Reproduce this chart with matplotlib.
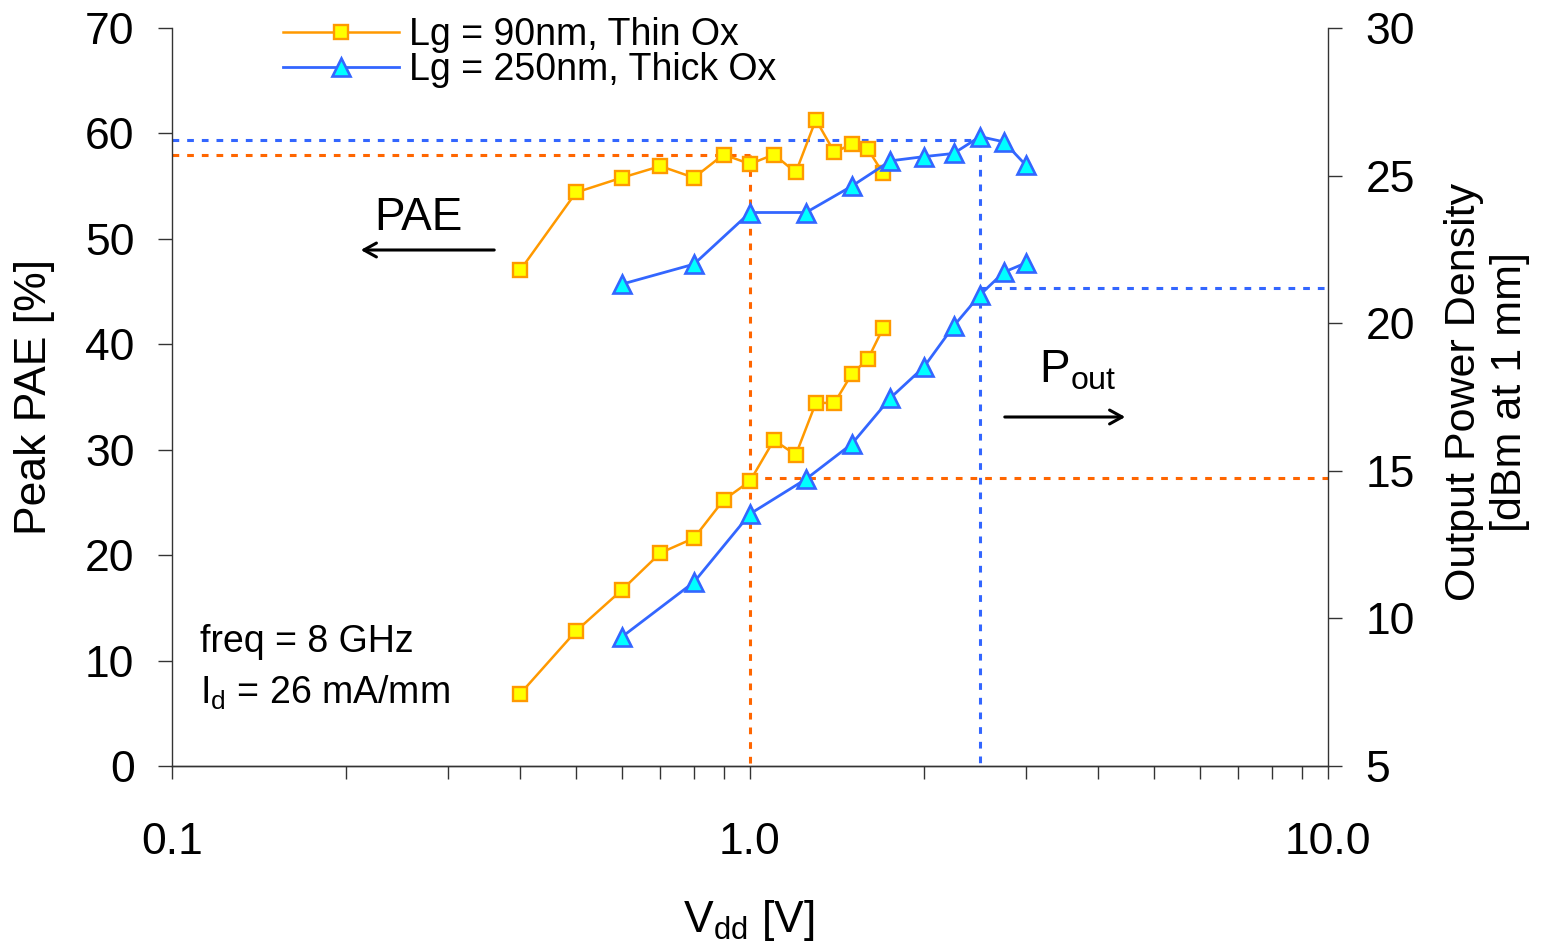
import matplotlib
matplotlib.use("Agg")
import matplotlib.pyplot as plt
from matplotlib.ticker import FixedLocator, NullFormatter

plt.rcParams['font.family'] = ['Liberation Sans', 'DejaVu Sans']
plt.rcParams['mathtext.fontset'] = 'custom'
plt.rcParams['mathtext.rm'] = 'Liberation Sans'
plt.rcParams['mathtext.it'] = 'Liberation Sans'

# ---- data ----
vdd_thin = [0.4, 0.5, 0.6, 0.7, 0.8, 0.9, 1.0, 1.1, 1.2, 1.3, 1.4, 1.5, 1.6, 1.7]
pae_thin = [47.0, 54.4, 55.8, 56.9, 55.8, 58.0, 57.1, 58.0, 56.3, 61.3, 58.2, 59.0, 58.5, 56.2]
pout_thin = [7.44, 9.57, 10.96, 12.22, 12.72, 14.01, 14.65, 16.04, 15.54, 17.30, 17.30, 18.28, 18.79, 19.84]

vdd_thick = [0.6, 0.8, 1.0, 1.25, 1.5, 1.75, 2.0, 2.25, 2.5, 2.75, 3.0]
pae_thick = [45.7, 47.6, 52.5, 52.5, 55.0, 57.4, 57.8, 58.1, 59.7, 59.2, 57.0]
pout_thick = [9.37, 11.23, 13.54, 14.72, 15.91, 17.47, 18.52, 19.90, 20.96, 21.73, 22.04]

# reference guides: (Vdd, PAE, Pout)
guide_thin = (1.0, 58.0, 14.75)
guide_thick = (2.5, 59.4, 21.2)

label_thin = "Lg = 90nm, Thin Ox"
label_thick = "Lg = 250nm, Thick Ox"

x_major = [0.1, 1.0, 10.0]
x_major_labels = ["0.1", "1.0", "10.0"]
x_minor = [0.2, 0.3, 0.4, 0.5, 0.6, 0.7, 0.8, 0.9, 2, 3, 4, 5, 6, 7, 8, 9]
pae_ticks = [0, 10, 20, 30, 40, 50, 60, 70]
pout_ticks = [5, 10, 15, 20, 25, 30]

# ---- styles ----
C_THIN_LINE = "#FF9900"
C_THIN_FACE = "#FFFF00"
C_THICK_LINE = "#3366FF"
C_THICK_FACE = "#00FFFF"
C_GUIDE_THIN = "#FF6600"
C_GUIDE_THICK = "#3366FF"
SPINE = "#333333"
FS_TICK = 32

W, H = 1547, 941
fig = plt.figure(figsize=(W / 100, H / 100), dpi=100)
L, R, T, B = 172, 1328, 28, 766
ax = fig.add_axes([L / W, 1 - B / H, (R - L) / W, (B - T) / H])
ax2 = ax.twinx()

ax.set_xscale("log")
ax.set_xlim(0.1, 10)
ax.set_ylim(0, 70)
ax2.set_ylim(5, 30)

thin_kw = dict(color=C_THIN_LINE, lw=1.8, marker="s", ms=10.5, mfc=C_THIN_FACE,
               mec=C_THIN_LINE, mew=1.7, zorder=5)
thick_kw = dict(color=C_THICK_LINE, lw=2.0, marker="^", ms=13, mfc=C_THICK_FACE,
                mec=C_THICK_LINE, mew=1.9, zorder=5)

ax.plot(vdd_thin, pae_thin, label=label_thin, **thin_kw)
ax.plot(vdd_thick, pae_thick, label=label_thick, **thick_kw)
ax2.plot(vdd_thin, pout_thin, **thin_kw)
ax2.plot(vdd_thick, pout_thick, **thick_kw)

# dotted guides to the peak PAE / output power
dash_kw = dict(lw=2.2, dashes=(2.2, 2.6), zorder=1)
for (v, p, po), c in ((guide_thin, C_GUIDE_THIN), (guide_thick, C_GUIDE_THICK)):
    ax.plot([0.1, v], [p, p], color=c, **dash_kw)
    ax.plot([v, v], [p, 0], color=c, **dash_kw)
    ax2.plot([v, 10], [po, po], color=c, **dash_kw)

# axes appearance
for a in (ax, ax2):
    a.spines["top"].set_visible(False)
    for s in a.spines.values():
        s.set_color(SPINE)
        s.set_linewidth(1.0)
ax.spines["right"].set_visible(False)
ax2.spines["left"].set_visible(False)

ax.xaxis.set_major_locator(FixedLocator(x_major))
ax.set_xticklabels(x_major_labels)
ax.xaxis.set_minor_locator(FixedLocator(x_minor))
ax.xaxis.set_minor_formatter(NullFormatter())
ax.tick_params(axis="x", which="both", direction="out", length=9, width=1.0,
               color=SPINE, labelsize=FS_TICK, pad=31)
ax.set_yticks(pae_ticks)
ax.tick_params(axis="y", direction="out", length=10, width=1.0, color=SPINE,
               labelsize=FS_TICK, pad=17)
ax2.set_yticks(pout_ticks)
ax2.tick_params(axis="y", direction="out", length=10, width=1.0, color=SPINE,
                labelsize=FS_TICK, pad=17)

# axis titles
fig.text(35 / W, 1 - 397 / H, "Peak PAE [%]", rotation=90, ha="center",
         va="center", fontsize=32)
fig.text(1487 / W, 1 - 392 / H, "Output Power Density\n[dBm at 1 mm]",
         rotation=90, ha="center", va="center", multialignment="center",
         fontsize=31, linespacing=1.2)
fig.text(749 / W, 1 - 932 / H, r"$\mathregular{V_{dd}}$ [V]", ha="center",
         va="baseline", fontsize=32)

# annotations
def axfrac(px, py):
    return ((px - L) / (R - L), (B - py) / (B - T))

arrow_style = dict(arrowstyle="->,head_length=0.9,head_width=0.5", lw=2.2,
                   color="black")
ax.text(*axfrac(418, 230), "PAE", transform=ax.transAxes, ha="center",
        va="baseline", fontsize=33)
ax.annotate("", xy=axfrac(358, 250), xytext=axfrac(497, 250),
            xycoords="axes fraction", textcoords="axes fraction",
            arrowprops=arrow_style)
ax.text(*axfrac(1039, 383), r"$\mathregular{P_{out}}$", transform=ax.transAxes,
        ha="left", va="baseline", fontsize=33)
ax.annotate("", xy=axfrac(1128, 417), xytext=axfrac(1002, 417),
            xycoords="axes fraction", textcoords="axes fraction",
            arrowprops=arrow_style)
ax.text(*axfrac(200, 652), "freq = 8 GHz", transform=ax.transAxes, ha="left",
        va="baseline", fontsize=27)
ax.text(*axfrac(200, 704), r"$\mathregular{I_d}$ = 26 mA/mm",
        transform=ax.transAxes, ha="left", va="baseline", fontsize=27)

leg = ax.legend(loc="upper left", bbox_to_anchor=(283 / W, 1 - 17 / H),
                bbox_transform=fig.transFigure, frameon=False, fontsize=27,
                handlelength=3.1, handletextpad=0.25, labelspacing=-0.02,
                borderpad=0, borderaxespad=0, numpoints=1)

fig.savefig("out.png", dpi=100)
